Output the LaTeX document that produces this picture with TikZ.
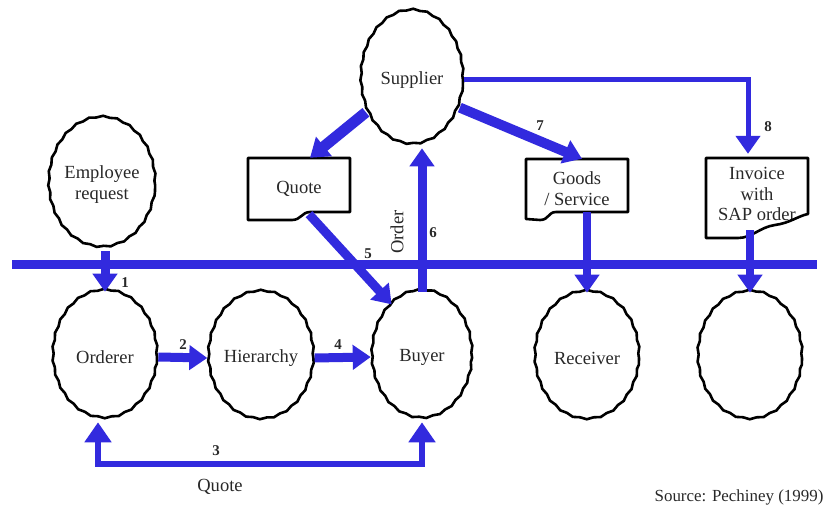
\documentclass[tikz,border=0pt]{standalone}
\usepackage{fontspec}
\setmainfont{Liberation Serif}
\usetikzlibrary{arrows.meta,shapes.geometric,decorations.pathmorphing,calc}
\definecolor{fblue}{RGB}{50,42,222}
\definecolor{tgray}{RGB}{40,40,40}
\begin{document}
\begin{tikzpicture}[x=1bp,y=-1bp,
  txt/.style={font=\fontsize{18.6}{21}\selectfont, text=tgray, align=center},
  num/.style={font=\bfseries\fontsize{15}{15}\selectfont, text=tgray},
  blob/.style={ellipse, draw=black, line width=2.6bp, fill=white, inner sep=0pt,
    minimum width=104bp, minimum height=128bp, txt,
    decorate, decoration={snake, segment length=14bp, amplitude=0.7bp}},
  docbox/.style={rectangle, inner sep=0pt, minimum width=102bp, txt},
  docline/.style={draw=black, line width=2.6bp, line join=round},
  tip/.style={-{Triangle[length=18bp,width=24bp]}},
  flow/.style={draw=fblue, line width=#1, tip},
  flow/.default=9bp]

\useasboundingbox (0,0) rectangle (827,509);

% ellipses
\node[blob, minimum width=102bp, minimum height=134bp] (supplier) at (412,80) {Supplier};
\node[blob, minimum width=94bp, minimum height=130bp] (empl) at (102,185) {Employee\\request};
\node[blob] (orderer) at (105,357) {Orderer};
\node[blob] (hier) at (261,358) {Hierarchy};
\node[blob, minimum width=100bp] (buyer) at (422,357) {Buyer};
\node[blob] (receiver) at (587,358) {Receiver};
\node[blob] (circ) at (750,358) {};

% document boxes (anchors + text)
\node[docbox, minimum height=62bp] (quote) at (299,189) {Quote};
\node[docbox, minimum height=60bp] (goods) at (577,189) {Goods\\/ Service};
\node[docbox, minimum height=80bp, font=\fontsize{18.6}{21}\selectfont] (invoice) at (757,194) {Invoice\\with\\SAP order};

% document outlines
\draw[docline] (248,158) -- (350,158) -- (350,212) -- (310,212)
  .. controls (302,212) and (301,220) .. (292,220) -- (248,220) -- cycle;
\draw[docline] (526,159) -- (628,159) -- (628,212) -- (556,212)
  .. controls (548,212) and (549,220) .. (540,220) -- (526,219) -- cycle;
\draw[docline] (706,158) -- (808,158) -- (808,214)
  .. controls (798,216) and (790,223) .. (775,225)
  .. controls (760,227) and (752,238) .. (738,238) -- (706,238) -- cycle;

% horizontal bar
\coordinate (barL) at (12,265);
\coordinate (barR) at (817,265);
\draw[fblue, line width=9bp] (barL) -- (barR);

% connectors
\draw[flow] (orderer.north |- empl.south) -- (orderer.north);
\draw[flow] (orderer.east) -- (hier.west);
\draw[flow] (hier.east) -- (buyer.west);
\coordinate (c3) at (250,464);
\draw[draw=fblue, line width=6bp, {Triangle[length=20bp,width=26bp]}-{Triangle[length=20bp,width=26bp]}]
  ($(orderer.south)+(-7,0)$) |- (c3) -| (buyer.south);
\draw[flow] ($(quote.south)+(10,-6)$) -- (buyer.120);
\draw[flow] (buyer.north) -- (buyer.north |- supplier.south);
\draw[flow=11bp] (supplier.215) -- ($(quote.north)+(11,0)$);
\draw[flow=10bp] (supplier.330) -- ($(goods.north)+(5,0)$);
\draw[flow=5bp] (supplier.east) -| ($(invoice.north)+(-9,0)$);
\draw[flow=8bp] ($(receiver.north |- goods.south)+(0,-7)$) -- (receiver.north);
\draw[flow=8bp] ($(circ.north |- invoice.south)+(0,-4)$) -- (circ.north);

% labels
\node[num] (l1) at (125,283) {1};
\node[num] (l2) at (183,345) {2};
\node[num] (l3) at (216,451) {3};
\node[num] (l4) at (338,345) {4};
\node[num] (l5) at (368,254) {5};
\node[num] (l6) at (433,233) {6};
\node[num] (l7) at (540,126) {7};
\node[num] (l8) at (768,127) {8};
\node[txt, rotate=90] (order) at (397,232) {Order};
\node[txt] (quotelbl) at (220,487) {Quote};
\node[txt, anchor=east, font=\fontsize{17}{18}\selectfont] (source) at (827,497) {Source: Pechiney (1999)};
\end{tikzpicture}
\end{document}
